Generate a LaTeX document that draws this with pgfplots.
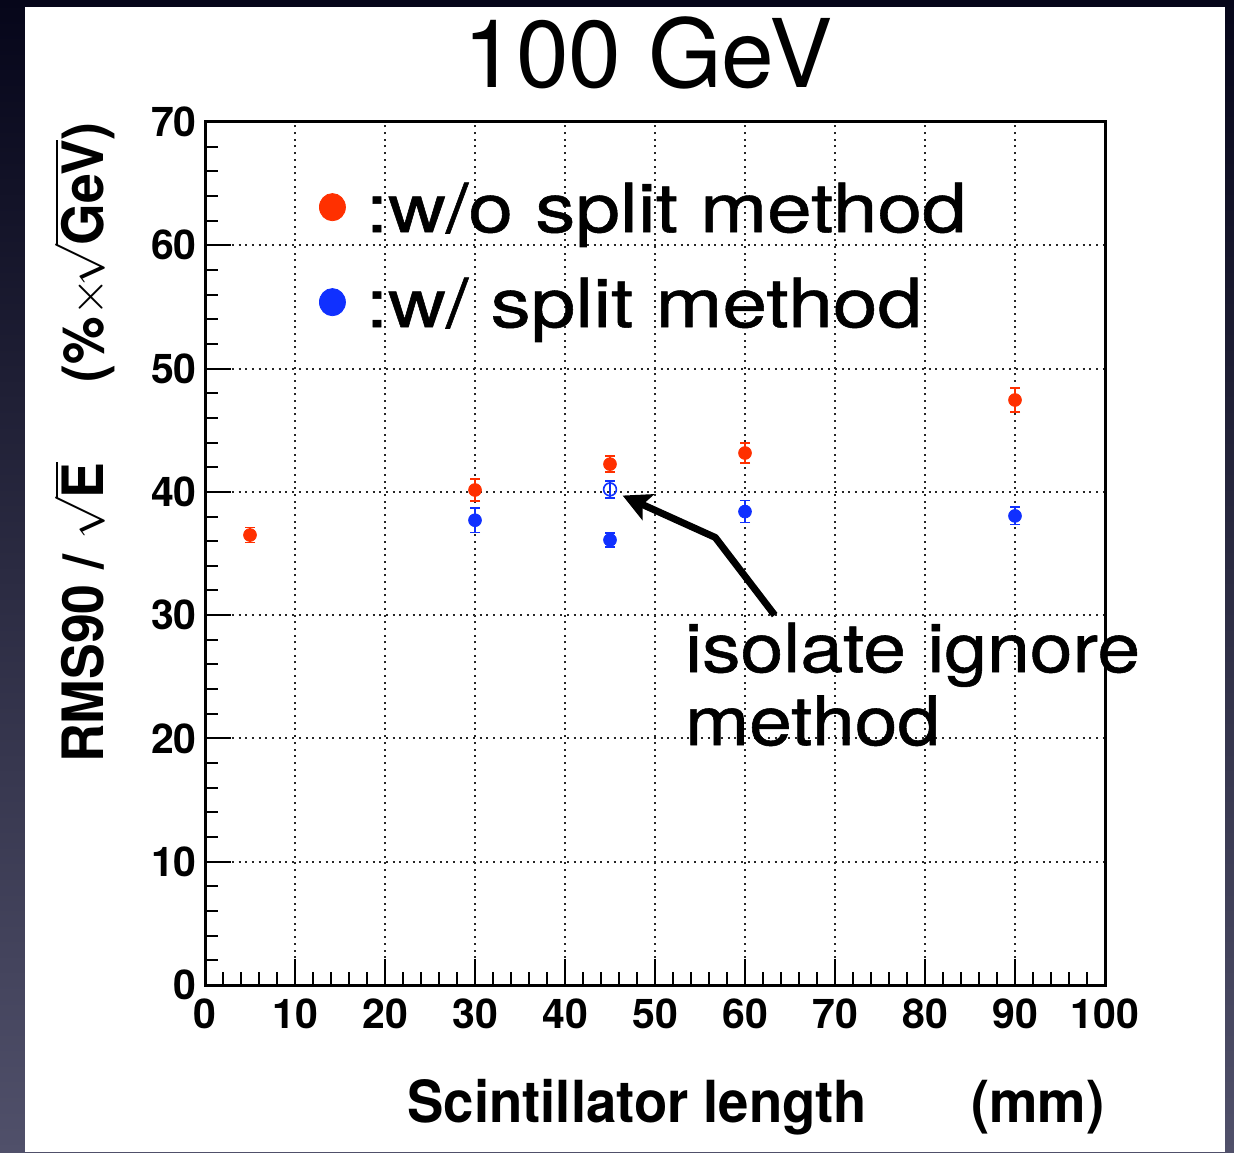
\documentclass[border=0pt]{standalone}
\usepackage{fontspec}
\setmainfont{TeX Gyre Heros}
\newfontfamily\hira[FakeStretch=1.18,FakeBold=0.8]{TeX Gyre Heros}
\newfontfamily\hirb[FakeStretch=1.13,FakeBold=0.8]{TeX Gyre Heros}
\newfontfamily\rootlab[FakeStretch=0.94]{TeX Gyre Heros}
\usepackage{pgfplots}
\pgfplotsset{compat=1.18}
\usetikzlibrary{arrows.meta}
\definecolor{rootred}{HTML}{FF3000}
\definecolor{rootblue}{HTML}{1030FF}
\definecolor{bgtop}{HTML}{06061A}
\definecolor{bgbot}{HTML}{50506A}

\begin{document}
\begin{tikzpicture}
% slide background and white panel
\shade[top color=bgtop,bottom color=bgbot] (0,0) rectangle (617pt,576pt);
\fill[white] (12.5pt,0) rectangle (612.5pt,572.5pt);
\node[anchor=base,inner sep=0pt,font=\fontsize{47.4}{50}\selectfont] at (324pt,532pt) {100 GeV};

\begin{axis}[
  at={(102.5pt,83.5pt)}, anchor=south west,
  scale only axis, width=450pt, height=431.5pt,
  xmin=0,xmax=100,ymin=0,ymax=70,
  clip=false,
  xtick={0,10,...,100}, ytick={0,10,...,70},
  minor x tick num=4, minor y tick num=4,
  tick pos=left, tick align=inside,
  major tick length=13pt, minor tick length=6.5pt,
  tick style={black,line width=1pt},
  axis line style={black,line width=1.5pt},
  grid=major,
  major grid style={black!85,line width=1pt,dash pattern=on 1pt off 2.35pt},
  ticklabel style={font=\bfseries\fontsize{20.5}{24}\selectfont,inner sep=0pt},
  /pgf/number format/assume math mode=true,
  xticklabel style={anchor=north,yshift=-6.5pt},
  yticklabel style={anchor=east,xshift=-4pt},
  xlabel={Scintillator length\hspace{52pt}(mm)},
  xlabel style={at={([yshift=-68.5pt]rel axis cs:1,0)},anchor=base east,
    inner sep=0pt,font=\rootlab\bfseries\fontsize{29}{32}\selectfont},
  ylabel={RMS90 / $\sqrt{\mbox{E}}$\hspace{40pt}(\%$\times\!\sqrt{\mbox{GeV}}$)},
  ylabel style={at={([xshift=-51pt]rel axis cs:0,1)},anchor=base east,
    inner sep=0pt,font=\rootlab\bfseries\fontsize{28.5}{32}\selectfont},
  legend style={at={(rel axis cs:0.1267,0.9303)},anchor=north west,
    draw=none,fill=none,inner sep=0pt,outer sep=0pt,
    row sep=14.5pt,column sep=10pt,
    font=\hira\fontsize{34}{40}\selectfont,
    nodes={inner sep=0pt,text height=25pt,text depth=8pt,anchor=base west}},
  error bars/error mark options={rotate=90,line width=0.8pt,mark size=2.5pt},
  error bars/error bar style={line width=0.8pt},
]
% w/o split method
\addplot[forget plot,only marks,mark=*,mark size=3.2pt,color=rootred,
  error bars/.cd,y dir=both,y explicit]
  coordinates {
  (5,36.5) +- (0,0.6)
  (30,40.15) +- (0,0.9)
  (45,42.25) +- (0,0.65)
  (60,43.15) +- (0,0.8)
  (90,47.45) +- (0,0.95)
};
% w/ split method
\addplot[forget plot,only marks,mark=*,mark size=3.2pt,color=rootblue,
  error bars/.cd,y dir=both,y explicit]
  coordinates {
  (30,37.7) +- (0,1.0)
  (45,36.1) +- (0,0.55)
  (60,38.4) +- (0,0.9)
  (90,38.05) +- (0,0.7)
};
% isolate ignore method
\addplot[forget plot,only marks,mark=o,mark size=3.2pt,color=rootblue,
  mark options={line width=0.8pt},
  error bars/.cd,y dir=both,y explicit]
  coordinates {
  (45,40.2) +- (0,0.7)
};

\addlegendimage{legend image code/.code={\fill[rootred] (6.5pt,12.5pt) ellipse [x radius=6.5pt,y radius=6.8pt];}}
\addlegendentry{:w/o split method}
\addlegendimage{legend image code/.code={\fill[rootblue] (6.5pt,12.5pt) ellipse [x radius=6.5pt,y radius=6.8pt];}}
\addlegendentry{:w/ split method}

\draw[line width=3.5pt,line join=round,-{Stealth[length=14pt,width=14pt,inset=3pt]}]
  (axis cs:63.3,30) -- (axis cs:56.7,36.3) -- (axis cs:46.4,39.7);
\node[anchor=base west,inner sep=0pt,font=\hirb\fontsize{34}{40}\selectfont]
  at (axis cs:53.3,25.38) {isolate ignore};
\node[anchor=base west,inner sep=0pt,font=\hirb\fontsize{34}{40}\selectfont]
  at (axis cs:53.3,19.46) {method};
\end{axis}
\end{tikzpicture}
\end{document}
